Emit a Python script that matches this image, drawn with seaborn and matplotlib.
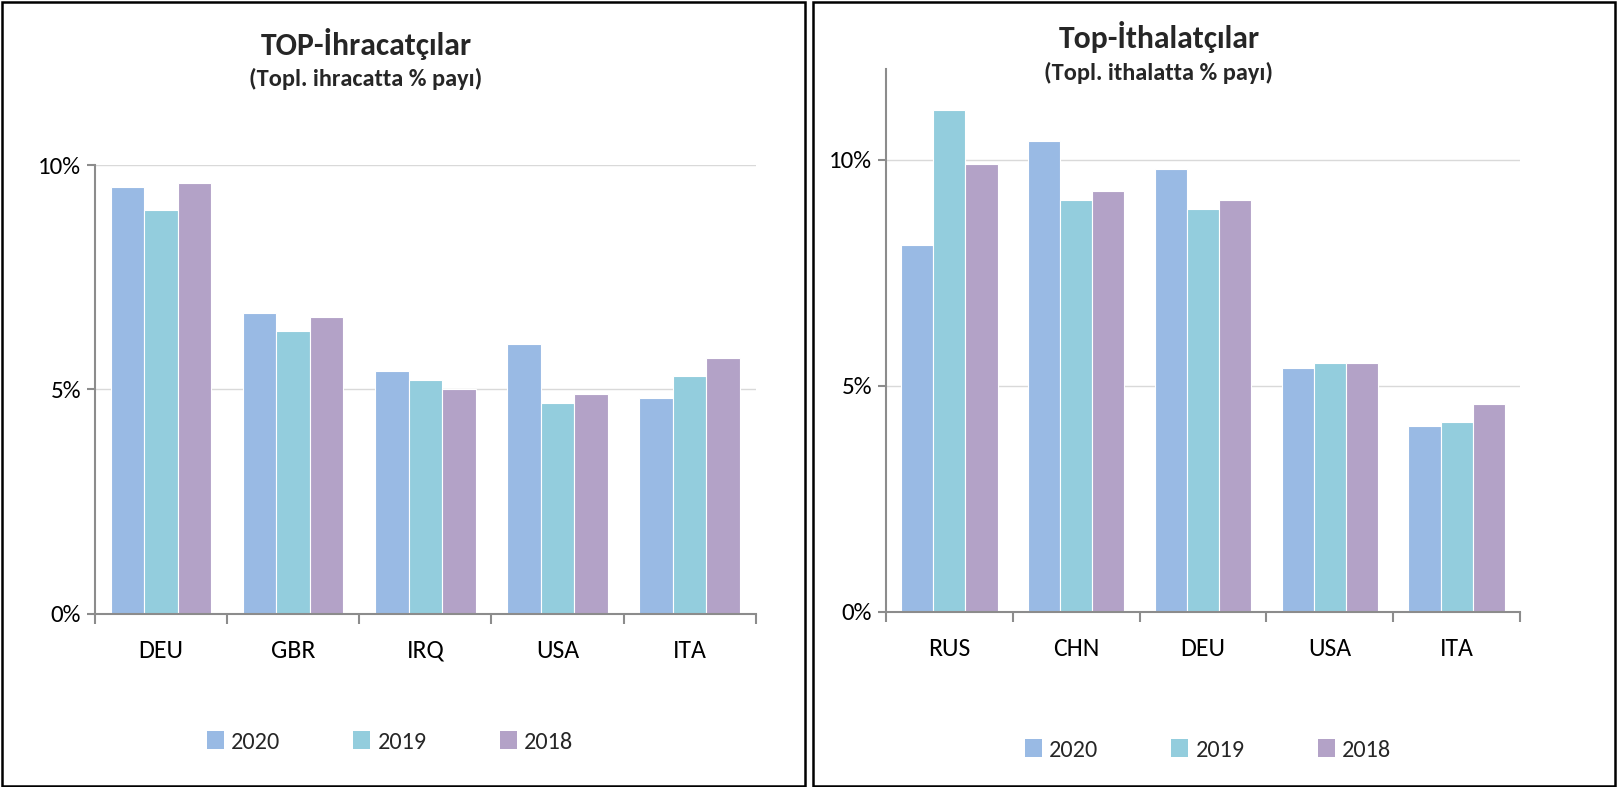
import numpy as np
import pandas as pd
import matplotlib
matplotlib.use("Agg")
import matplotlib.pyplot as plt
from matplotlib.patches import Rectangle, Patch
from matplotlib.ticker import FuncFormatter, FixedLocator
import seaborn as sns

# ---- data ----
years = ["2020", "2019", "2018"]
exp_countries = ["DEU", "GBR", "IRQ", "USA", "ITA"]
exp_2020 = [9.5, 6.7, 5.4, 6.0, 4.8]
exp_2019 = [9.0, 6.3, 5.2, 4.7, 5.3]
exp_2018 = [9.6, 6.6, 5.0, 4.9, 5.7]

imp_countries = ["RUS", "CHN", "DEU", "USA", "ITA"]
imp_2020 = [8.1, 10.4, 9.8, 5.4, 4.1]
imp_2019 = [11.1, 9.1, 8.9, 5.5, 4.2]
imp_2018 = [9.9, 9.3, 9.1, 5.5, 4.6]

exp_title = "TOP-İhracatçılar"
exp_sub = "(Topl. ihracatta % payı)"
imp_title = "Top-İthalatçılar"
imp_sub = "(Topl. ithalatta % payı)"

colors = ["#99BAE4", "#93CDDD", "#B3A2C7"]

sns.set_theme(style="white")
from matplotlib import font_manager
avail = {f.name for f in font_manager.fontManager.ttflist}
fams = [f for f in ["Carlito", "Liberation Sans Narrow", "Lato", "DejaVu Sans"] if f in avail]
plt.rcParams["font.family"] = fams

W, H = 1617, 787
fig = plt.figure(figsize=(W / 100, H / 100), dpi=100)


def make_df(countries, a, b, c):
    rows = []
    for yr, vals in zip(years, [a, b, c]):
        for ctry, v in zip(countries, vals):
            rows.append({"country": ctry, "year": yr, "value": v})
    return pd.DataFrame(rows)


def draw(ax, df, countries, ymax):
    sns.barplot(data=df, x="country", y="value", hue="year", order=countries,
                hue_order=years, palette=colors, width=0.76, ax=ax,
                edgecolor="white", linewidth=0.8, saturation=1, legend=False)
    ax.set_xlim(-0.5, len(countries) - 0.5)
    ax.set_ylim(0, ymax)
    ax.set_yticks([0, 5, 10])
    ax.yaxis.set_major_formatter(FuncFormatter(lambda v, p: f"{v:.0f}%"))
    ax.set_xlabel("")
    ax.set_ylabel("")
    for s in ["top", "right"]:
        ax.spines[s].set_visible(False)
    for s in ["left", "bottom"]:
        ax.spines[s].set_color("#8C8C8C")
        ax.spines[s].set_linewidth(1.5)
    ax.grid(axis="y", color="#D9D9D9", linewidth=1.0)
    ax.set_axisbelow(True)
    ax.tick_params(axis="y", which="major", length=6, width=1.5, color="#8C8C8C",
                   labelsize=18, labelcolor="black", pad=4, left=True)
    ax.tick_params(axis="x", which="major", length=0, labelsize=18.5,
                   labelcolor="black", pad=18)
    ax.xaxis.set_minor_locator(FixedLocator(np.arange(-0.5, len(countries), 1.0)))
    ax.tick_params(axis="x", which="minor", length=7, width=1.5, color="#8C8C8C",
                   bottom=True)


ax1 = fig.add_axes([94.9 / W, 1 - 613.5 / H, (755.7 - 94.9) / W, (613.5 - 165) / H])
draw(ax1, make_df(exp_countries, exp_2020, exp_2019, exp_2018), exp_countries, 10)

ax2 = fig.add_axes([886 / W, 1 - 612 / H, (1520 - 886) / W, (612 - 69) / H])
draw(ax2, make_df(imp_countries, imp_2020, imp_2019, imp_2018), imp_countries, 12)

# titles
fig.text(366 / W, 1 - 44 / H, exp_title, ha="center", va="center",
         fontsize=22.8, fontweight="bold")
fig.text(366 / W, 1 - 79 / H, exp_sub, ha="center", va="center",
         fontsize=17.5, fontweight="bold")
fig.text(1159 / W, 1 - 37 / H, imp_title, ha="center", va="center",
         fontsize=22.8, fontweight="bold")
fig.text(1159 / W, 1 - 73 / H, imp_sub, ha="center", va="center",
         fontsize=17.5, fontweight="bold")

# legends
handles = [Patch(facecolor=c, edgecolor="none") for c in colors]
for cx, cy in [(390 / W, 1 - 742 / H), (1208 / W, 1 - 750 / H)]:
    fig.legend(handles, years, loc="center", bbox_to_anchor=(cx, cy), ncol=3,
               frameon=False, fontsize=17.5, handlelength=0.7, handleheight=0.7,
               handletextpad=0.3, columnspacing=3.0)

# panel borders
fig.patches.append(Rectangle((1.5 / W, 1.5 / H), (805 - 1.5) / W, (785 - 1.5) / H,
                             transform=fig.transFigure, fill=False,
                             edgecolor="black", linewidth=1.8))
fig.patches.append(Rectangle((813 / W, 1.5 / H), (1615 - 813) / W, (785 - 1.5) / H,
                             transform=fig.transFigure, fill=False,
                             edgecolor="black", linewidth=1.8))

fig.savefig("out.png", dpi=100, facecolor="white")
